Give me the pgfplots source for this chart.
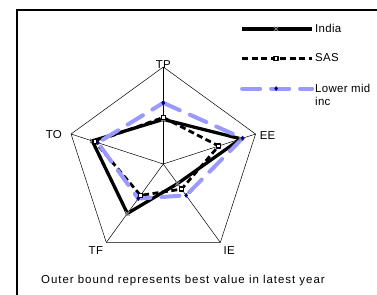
\documentclass[border=0pt]{standalone}
\usepackage{pgfplots}
\pgfplotsset{compat=1.18}
\usepgfplotslibrary{polar}
\usepackage{fontspec}
\setmainfont{Liberation Sans}[LetterSpace=3]
\newfontfamily\capfont{Liberation Sans}[LetterSpace=8.5]
\definecolor{lowmid}{RGB}{153,153,255}
\definecolor{navy}{RGB}{0,0,128}
\begin{document}
\begin{tikzpicture}
\useasboundingbox (0,0) rectangle (377bp,295bp);
\fill[white] (0,0) rectangle (377bp,295bp);
\draw[line width=2bp] (17.3bp,0) -- (17.3bp,285bp) -- (377bp,285bp);
\begin{polaraxis}[
  at={(163.3bp,131bp)}, anchor=origin,
  scale only axis, width=194bp, height=194bp,
  xmin=0, xmax=360, ymin=0, ymax=1,
  hide axis, clip=false,
  font=\fontsize{11.5}{13}\selectfont,
  legend style={draw=none, fill=none, at={(0.895,1.228)}, anchor=north west,
    font=\fontsize{11.5}{13}\selectfont, row sep=18bp, inner sep=0pt,
    nodes={inner sep=1pt, anchor=west}},
  legend cell align=left,
  legend image code/.code={\draw[mark repeat=2,mark phase=2,#1] plot coordinates {(0bp,0bp) (34bp,0bp) (70bp,0bp)};},
]
% grid: outer pentagon and spokes
\addplot[black, line width=0.5bp, forget plot] coordinates {(90,1) (18,1) (-54,1) (-126,1) (162,1) (90,1)};
\addplot[black, line width=0.5bp, forget plot] coordinates {(90,0) (90,1)};
\addplot[black, line width=0.5bp, forget plot] coordinates {(18,0) (18,1)};
\addplot[black, line width=0.5bp, forget plot] coordinates {(-54,0) (-54,1)};
\addplot[black, line width=0.5bp, forget plot] coordinates {(-126,0) (-126,1)};
\addplot[black, line width=0.5bp, forget plot] coordinates {(162,0) (162,1)};
% India
\addplot[black, line width=3.3bp, line join=miter, mark=x, mark size=3bp,
  mark options={gray, line width=1bp, solid}]
  coordinates {(90,0.46) (18,0.84) (-54,0.25) (-126,0.63) (162,0.77) (90,0.46)};
\addlegendentry{India}
% SAS
\addplot[black, line width=2.8bp, dash pattern=on 6bp off 3.5bp, line join=round, mark=square*, mark size=2bp,
  mark options={solid, fill=white, draw=black, line width=1.3bp}]
  coordinates {(90,0.48) (18,0.60) (-54,0.32) (-126,0.40) (162,0.74) (90,0.48)};
\addlegendentry{SAS}
% Lower mid inc
\addplot[lowmid, line width=4bp, dash pattern=on 18bp off 11bp, line cap=round, mark=diamond*, mark size=2bp,
  mark options={solid, navy, line width=0.5bp}]
  coordinates {(90,0.63) (18,0.86) (-54,0.40) (-126,0.44) (162,0.71) (90,0.63)};
\addlegendentry{\raisebox{0pt}[\height][0pt]{\begin{tabular}[t]{@{}l@{}}Lower mid\\[0pt]inc\end{tabular}}}
% axis labels
\node[anchor=base, inner sep=0pt, yshift=-2bp] at (axis cs:90,1) {TP};
\node[anchor=west, inner sep=0pt, xshift=4bp, yshift=-2bp] at (axis cs:18,1) {EE};
\node[anchor=north west, inner sep=0pt, xshift=3bp, yshift=-4bp] at (axis cs:-54,1) {IE};
\node[anchor=north east, inner sep=0pt, xshift=-3bp, yshift=-4bp] at (axis cs:-126,1) {TF};
\node[anchor=east, inner sep=0pt, xshift=-9bp, yshift=-1bp] at (axis cs:162,1) {TO};
\end{polaraxis}
\node[anchor=base west, inner sep=0pt, font=\capfont\fontsize{11.5}{13}\selectfont] at (41bp,12bp) {Outer bound represents best value in latest year};
\end{tikzpicture}
\end{document}
